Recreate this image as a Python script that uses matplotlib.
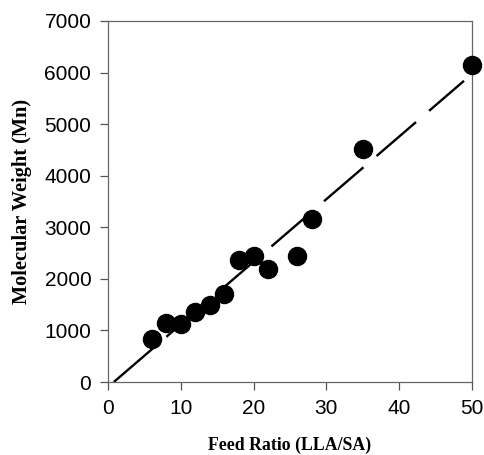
import matplotlib
matplotlib.use("Agg")
import matplotlib.pyplot as plt
import numpy as np

feed_ratio = [6, 8, 10, 12, 14, 16, 18, 20, 22, 26, 28, 35, 50]
mol_weight = [825, 1145, 1120, 1360, 1500, 1710, 2375, 2440, 2190, 2445, 3160, 4510, 6155]
fit_x = [0.8, 48.9]
fit_y = [0, 5840]

xticks = [0, 10, 20, 30, 40, 50]
yticks = [0, 1000, 2000, 3000, 4000, 5000, 6000, 7000]

plt.rcParams['lines.scale_dashes'] = False
fig = plt.figure(figsize=(4.84, 4.55), dpi=100)
ax = fig.add_axes([108/484, 1-382/455, (472-108)/484, (382-21)/455])

ax.plot(fit_x, fit_y, color='black', lw=1.7, dashes=(37.5, 12.4), dash_capstyle='butt', zorder=2)
ax.plot(feed_ratio, mol_weight, 'o', color='black', ms=13, zorder=3, clip_on=False)

ax.set_xlim(0, 50)
ax.set_ylim(0, 7000)
ax.set_xticks(xticks)
ax.set_yticks(yticks)
for s in ax.spines.values():
    s.set_color('#666666')
    s.set_linewidth(0.9)
ax.tick_params(direction='out', length=6, width=0.9, color='#555555', labelsize=15, pad=6)
for lab in ax.get_xticklabels() + ax.get_yticklabels():
    lab.set_fontfamily('Liberation Sans')

ax.set_xlabel('Feed Ratio (LLA/SA)', fontfamily='Liberation Serif', fontweight='bold', fontsize=12.8, labelpad=13.5)
ax.set_ylabel('Molecular Weight (Mn)', fontfamily='Liberation Serif', fontweight='bold', fontsize=14.7, labelpad=9)

fig.savefig('out.png', dpi=100)
